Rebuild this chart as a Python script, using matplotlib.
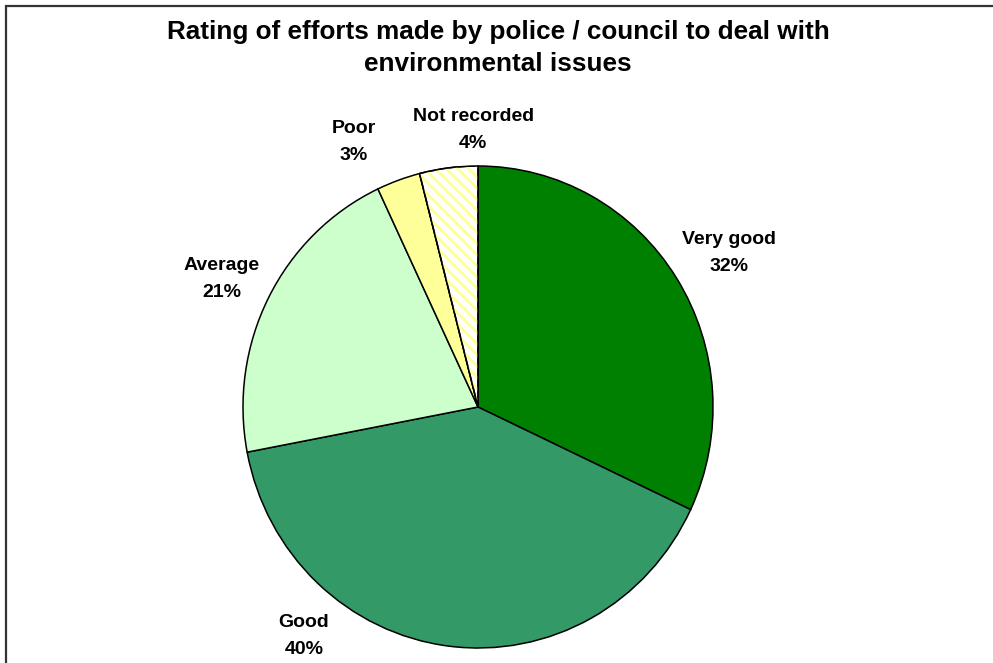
import matplotlib
matplotlib.use("Agg")
import matplotlib.pyplot as plt
from matplotlib.patches import Rectangle, Wedge

plt.rcParams['font.family'] = ['Liberation Sans', 'DejaVu Sans']
plt.rcParams['hatch.linewidth'] = 2.1

# data
categories = ["Very good", "Good", "Average", "Poor", "Not recorded"]
percents = [32, 40, 21, 3, 4]
colors = ["#008000", "#339966", "#CCFFCC", "#FFFF99", "#FFFFFF"]

# label centres (axes data units, pie radius = 1)
label_pos = [(1.07, 0.64), (-0.74, -0.95), (-1.09, 0.53), (-0.53, 1.10), (-0.02, 1.15)]

W, H = 993, 663
fig = plt.figure(figsize=(W / 100, H / 100), dpi=100)

# outer frame (runs off the right and bottom edge)
fig.patches.append(Rectangle((6 / W, -0.1), 2, 1 - 6 / H + 0.1, transform=fig.transFigure,
                             fill=False, edgecolor="#333333", linewidth=1.6))

cx, cy, rx, ry = 478, 407, 235, 241
ax = fig.add_axes([(cx - rx) / W, (H - cy - ry) / H, 2 * rx / W, 2 * ry / H])

wedges, _ = ax.pie(percents, colors=colors, startangle=90, counterclock=False,
                   wedgeprops=dict(edgecolor="black", linewidth=1.1))
ax.set_aspect("auto")
ax.set_xlim(-1, 1)
ax.set_ylim(-1, 1)

# yellow stripes on the "Not recorded" slice
w = wedges[-1]
stripes = Wedge(w.center, w.r, w.theta1, w.theta2, facecolor="none",
                edgecolor="#FFFF99", hatch="\\\\\\", linewidth=0, zorder=w.get_zorder() + 0.1)
ax.add_patch(stripes)
outline = Wedge(w.center, w.r, w.theta1, w.theta2, facecolor="none",
                edgecolor="black", linewidth=1.1, zorder=w.get_zorder() + 0.2)
ax.add_patch(outline)

for name, pct, (lx, ly) in zip(categories, percents, label_pos):
    ax.text(lx, ly, f"{name}\n{pct}%", ha="center", va="center", multialignment="center",
            fontsize=14, fontweight="bold", linespacing=1.75)

fig.text(498 / W, 1 - 48 / H,
         "Rating of efforts made by police / council to deal with\nenvironmental issues",
         ha="center", va="center", fontsize=18.8, fontweight="bold", linespacing=1.4)

fig.savefig("out.png", dpi=100)
